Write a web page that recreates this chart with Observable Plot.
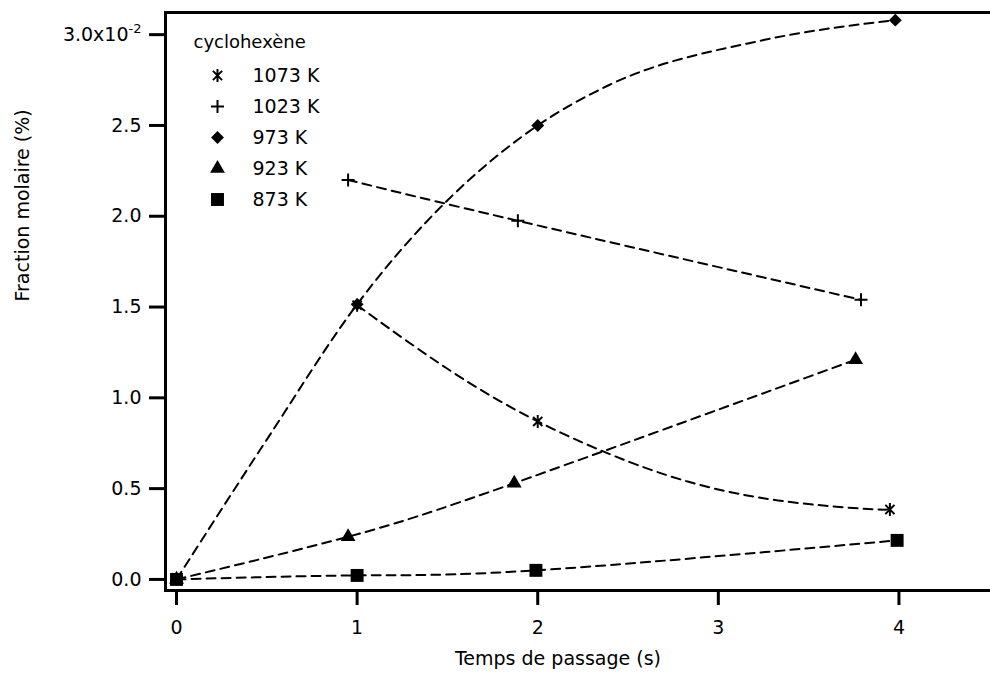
<!DOCTYPE html>
<html>
<head>
<meta charset="utf-8">
<script src="https://cdn.jsdelivr.net/npm/d3@7"></script>
<script src="https://cdn.jsdelivr.net/npm/@observablehq/plot@0.6"></script>
<style>
  html, body { margin: 0; padding: 0; background: #fff; }
  #chart svg g[aria-label="x-axis tick"] path,
  #chart svg g[aria-label="y-axis tick"] path { stroke-width: 3px; }
</style>
</head>
<body>
<div id="chart"></div>
<script>
// ---- data ----
const legendTitle = "cyclohexène";
const seriesNames = ["1073 K", "1023 K", "973 K", "923 K", "873 K"];

// measured points
const t1073 = [1.0, 2.0, 3.95];
const y1073 = [1.51, 0.87, 0.385];

const t1023 = [0.95, 1.89, 3.79];
const y1023 = [2.20, 1.975, 1.54];

const t973 = [0, 1.0, 2.0, 3.98];
const y973 = [0, 1.515, 2.50, 3.08];

const t923 = [0, 0.95, 1.87, 3.76];
const y923 = [0, 0.235, 0.53, 1.21];

const t873 = [0, 1.0, 1.99, 3.99];
const y873 = [0, 0.022, 0.05, 0.215];

// dashed fitted curves
const fitT1073 = [1.0, 1.5, 2.0, 2.5, 2.9, 3.33, 3.79, 3.95];
const fitY1073 = [1.51, 1.16, 0.87, 0.65, 0.52, 0.435, 0.39, 0.385];

const fitT1023 = [0.95, 1.89, 3.79];
const fitY1023 = [2.20, 1.975, 1.54];

const fitT973 = [0, 0.5, 1.0, 2.0, 2.39, 3.25, 3.98];
const fitY973 = [0, 0.77, 1.515, 2.50, 2.72, 2.97, 3.08];

const fitT923 = [0, 0.95, 1.87, 3.76];
const fitY923 = [0, 0.235, 0.53, 1.21];

const fitT873 = [0, 1.0, 1.99, 3.99];
const fitY873 = [0, 0.022, 0.05, 0.215];

const xTicks = [0, 1, 2, 3, 4];
const yTicks = [0, 0.5, 1.0, 1.5, 2.0, 2.5, 3.0];
const xLabel = "Temps de passage (s)";
const yLabel = "Fraction molaire (%)";

// ---- custom stroke symbols ----
const asteriskSym = {
  draw(ctx, size) {
    const r = Math.sqrt(size / Math.PI);
    const d = r * Math.SQRT1_2;
    ctx.moveTo(0, -r); ctx.lineTo(0, r);
    ctx.moveTo(-d, -d); ctx.lineTo(d, d);
    ctx.moveTo(-d, d); ctx.lineTo(d, -d);
  }
};
const plusSym = {
  draw(ctx, size) {
    const r = Math.sqrt(size / Math.PI);
    ctx.moveTo(0, -r); ctx.lineTo(0, r);
    ctx.moveTo(-r, 0); ctx.lineTo(r, 0);
  }
};

const series = [
  {name: seriesNames[0], t: t1073, y: y1073, ft: fitT1073, fy: fitY1073, curve: "natural", symbol: asteriskSym, r: 6.5, filled: false},
  {name: seriesNames[1], t: t1023, y: y1023, ft: fitT1023, fy: fitY1023, curve: "natural", symbol: plusSym, r: 6.5, filled: false},
  {name: seriesNames[2], t: t973, y: y973, ft: fitT973, fy: fitY973, curve: "monotone-x", symbol: "diamond2", r: 5.8, filled: true},
  {name: seriesNames[3], t: t923, y: y923, ft: fitT923, fy: fitY923, curve: "natural", symbol: "triangle", r: 5.5, filled: true},
  {name: seriesNames[4], t: t873, y: y873, ft: fitT873, fy: fitY873, curve: "natural", symbol: "square", r: 7.3, filled: true}
];
const rows = series.map(s => s.t.map((t, i) => ({t, v: s.y[i], name: s.name})));
const fitRows = series.map(s => s.ft.map((t, i) => ({t, v: s.fy[i], name: s.name})));

// draw order: diamond under asterisk, square on top at origin
const drawOrder = [2, 3, 0, 1, 4];

const marks = [];
for (const i of drawOrder) {
  marks.push(Plot.line(fitRows[i], {
    x: "t", y: "v", curve: series[i].curve,
    stroke: "black", strokeWidth: 2, strokeDasharray: "9,6"
  }));
}
for (const i of drawOrder) {
  const s = series[i];
  marks.push(Plot.dot(rows[i], {
    x: "t", y: "v", symbol: () => s.symbol, r: s.r,
    fill: s.filled ? "black" : "none",
    stroke: s.filled ? "none" : "black",
    strokeWidth: s.filled ? 0 : 2
  }));
}
// frame (left, top, bottom)
marks.push(Plot.frame({anchor: "left", strokeWidth: 3}));
marks.push(Plot.frame({anchor: "top", strokeWidth: 3}));
marks.push(Plot.frame({anchor: "bottom", strokeWidth: 3}));

// axes
marks.push(Plot.axisX(xTicks, {
  tickSize: 15, tickPadding: 15, tickFormat: d => String(d), label: null, fontSize: 19
}));
marks.push(Plot.axisY(yTicks, {
  tickSize: 16, tickPadding: 8, label: null, fontSize: 19,
  tickFormat: d => d === 3 ? "SUPER3" : d3.format(".1f")(d)
}));

// axis titles
marks.push(Plot.text([xLabel], {
  text: d => d, frameAnchor: "bottom", dx: -20, dy: 74, fontSize: 19
}));
marks.push(Plot.text([yLabel], {
  text: d => d, frameAnchor: "left", dx: -143, rotate: -90, fontSize: 19
}));

// legend
marks.push(Plot.text([legendTitle], {
  text: d => d, frameAnchor: "top-left", dx: 28, dy: 30,
  textAnchor: "start", lineAnchor: "middle", fontSize: 18
}));
series.forEach((s, i) => {
  marks.push(Plot.dot([s.name], {
    frameAnchor: "top-left", dx: 52, dy: 63 + 31 * i,
    symbol: () => s.symbol, r: s.r,
    fill: s.filled ? "black" : "none",
    stroke: s.filled ? "none" : "black",
    strokeWidth: s.filled ? 0 : 2
  }));
  marks.push(Plot.text([s.name], {
    text: d => d, frameAnchor: "top-left", dx: 87, dy: 63 + 31 * i,
    textAnchor: "start", lineAnchor: "middle", fontSize: 19
  }));
});

const chart = Plot.plot({
  width: 990,
  height: 677,
  marginLeft: 165,
  marginTop: 12,
  marginBottom: 87,
  marginRight: 0,
  style: {fontFamily: "'DejaVu Sans', sans-serif", fontSize: "19px", color: "black", background: "white"},
  x: {domain: [-0.061, 4.507], axis: null},
  y: {domain: [-0.061, 3.122], axis: null},
  marks
});

// superscript exponent on the top y tick label
chart.querySelectorAll("text").forEach(el => {
  if (el.textContent === "SUPER3") {
    el.textContent = "";
    const ns = "http://www.w3.org/2000/svg";
    const a = document.createElementNS(ns, "tspan");
    a.textContent = "3.0x10";
    const b = document.createElementNS(ns, "tspan");
    b.textContent = "-2";
    b.setAttribute("dy", "-0.6em");
    b.setAttribute("font-size", "13");
    el.appendChild(a);
    el.appendChild(b);
  }
});

document.getElementById("chart").appendChild(chart);
</script>
</body>
</html>
